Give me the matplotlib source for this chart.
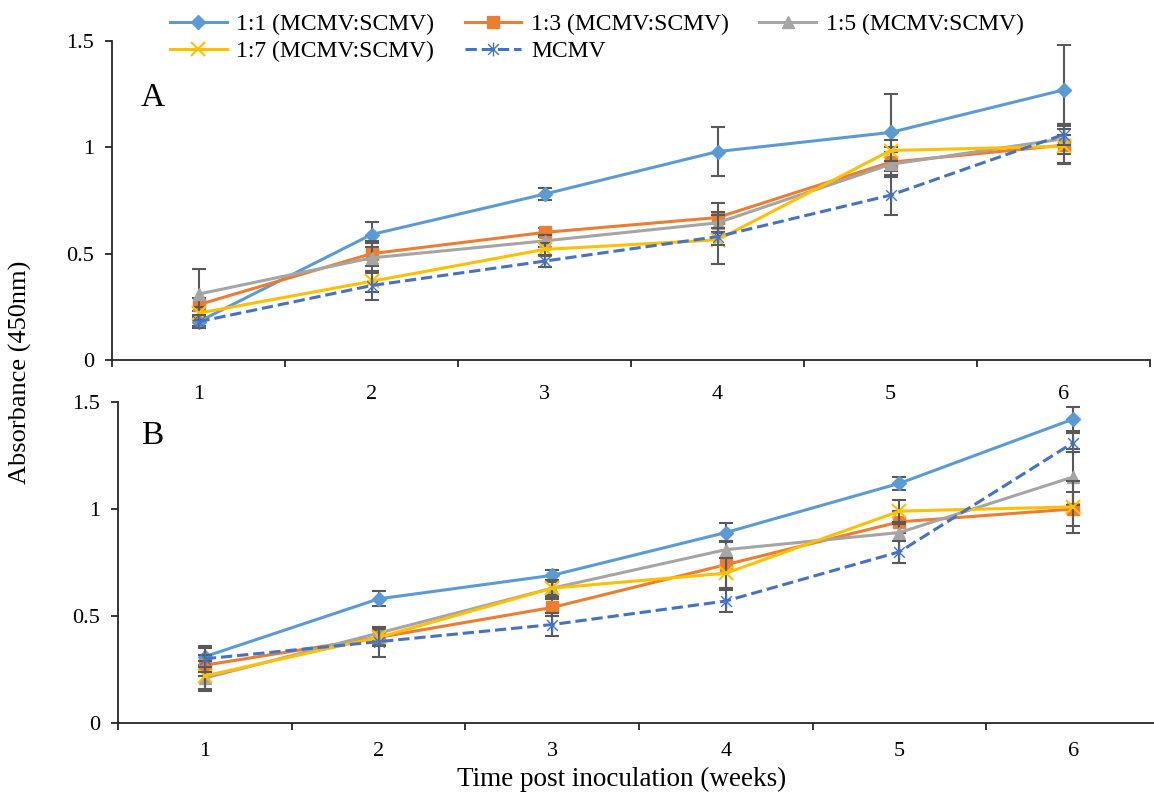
import matplotlib
matplotlib.use("Agg")
import matplotlib.pyplot as plt
import numpy as np
from matplotlib.path import Path

plt.rcParams['font.family'] = ['Liberation Serif', 'DejaVu Serif']

# weeks after inoculation
weeks = [1, 2, 3, 4, 5, 6]
labels = ["1:1 (MCMV:SCMV)", "1:3 (MCMV:SCMV)", "1:5 (MCMV:SCMV)", "1:7 (MCMV:SCMV)", "MCMV"]

# panel A, absorbance and error
a_11 = [0.18, 0.59, 0.78, 0.98, 1.07, 1.27]
a_13 = [0.26, 0.50, 0.60, 0.67, 0.93, 1.01]
a_15 = [0.31, 0.48, 0.56, 0.645, 0.92, 1.04]
a_17 = [0.22, 0.37, 0.52, 0.565, 0.985, 1.005]
a_mc = [0.18, 0.35, 0.465, 0.58, 0.775, 1.06]
a_11_err = [0.02, 0.06, 0.03, 0.115, 0.18, 0.21]
a_13_err = [0.03, 0.06, 0.02, 0.07, 0.07, 0.09]
a_15_err = [0.12, 0.07, 0.03, 0.05, 0.06, 0.07]
a_17_err = [0.03, 0.05, 0.03, 0.115, 0.05, 0.08]
a_mc_err = [0.03, 0.07, 0.03, 0.04, 0.095, 0.05]

# panel B
b_11 = [0.31, 0.58, 0.69, 0.89, 1.12, 1.42]
b_13 = [0.27, 0.40, 0.54, 0.74, 0.94, 1.00]
b_15 = [0.21, 0.42, 0.63, 0.81, 0.89, 1.15]
b_17 = [0.22, 0.40, 0.63, 0.70, 0.99, 1.01]
b_mc = [0.30, 0.38, 0.46, 0.57, 0.80, 1.31]
b_11_err = [0.04, 0.035, 0.025, 0.045, 0.03, 0.055]
b_13_err = [0.05, 0.03, 0.04, 0.11, 0.05, 0.08]
b_15_err = [0.05, 0.03, 0.04, 0.04, 0.04, 0.13]
b_17_err = [0.07, 0.04, 0.03, 0.07, 0.05, 0.12]
b_mc_err = [0.06, 0.07, 0.055, 0.05, 0.05, 0.045]

yticks = [0, 0.5, 1, 1.5]
ytick_labels = ["0", "0.5", "1", "1.5"]

# excel-like "star" marker (x with a vertical bar)
star = Path([(-1, -1), (1, 1), (-1, 1), (1, -1), (0, -1.3), (0, 1.3)],
            [Path.MOVETO, Path.LINETO, Path.MOVETO, Path.LINETO, Path.MOVETO, Path.LINETO])

styles = [
    dict(color='#5B9BD5', marker='D', ms=7.5, ls='-'),
    dict(color='#ED7D31', marker='s', ms=8, ls='-'),
    dict(color='#A5A5A5', marker='^', ms=9, ls='-'),
    dict(color='#FFC000', marker='x', ms=10, ls='-', mew=1.5),
    dict(color='#4472C4', marker=star, ms=10, ls='--', mew=1.0, mfc='none'),
]

W, H = 1154, 793
fig = plt.figure(figsize=(W / 100, H / 100), dpi=100)
ax1 = fig.add_axes([112 / W, 1 - 360 / H, (1150 - 112) / W, 319 / H])
ax2 = fig.add_axes([118 / W, 1 - 723 / H, (1160 - 118) / W, 321 / H])

panels = [
    (ax1, [a_11, a_13, a_15, a_17, a_mc], [a_11_err, a_13_err, a_15_err, a_17_err, a_mc_err], 18),
    (ax2, [b_11, b_13, b_15, b_17, b_mc], [b_11_err, b_13_err, b_15_err, b_17_err, b_mc_err], 14),
]

handles = []
for ax, series, errs, xpad in panels:
    handles = []
    for vals, err, lab, st in zip(series, errs, labels, styles):
        st = dict(st)
        c = st.pop('color')
        ax.errorbar(weeks, vals, yerr=err, fmt='none', ecolor='#595959',
                    elinewidth=1.5, capsize=5, capthick=1.5)
        ln, = ax.plot(weeks, vals, color=c, lw=2.2, mec=c,
                      mfc=st.pop('mfc', c), label=lab, **st)
        handles.append(ln)

    ax.set_xlim(0.5, 6.5)
    ax.set_ylim(0, 1.5)
    ax.set_xticks(weeks)
    ax.set_xticks(np.arange(0.5, 7, 1), minor=True)
    ax.set_yticks(yticks)
    ax.set_yticklabels(ytick_labels)
    ax.tick_params(axis='x', which='major', length=0, pad=xpad, labelsize=16)
    ax.tick_params(axis='x', which='minor', length=5, width=1.3, direction='out', color='#262626')
    ax.tick_params(axis='y', length=5, width=1.3, pad=8, labelsize=16, color='#262626')
    for s in ['top', 'right']:
        ax.spines[s].set_visible(False)
    for s in ['left', 'bottom']:
        ax.spines[s].set_linewidth(1.3)
        ax.spines[s].set_color('#262626')
    ax.patch.set_alpha(0)

fig.text(153 / W, 1 - 98 / H, "A", fontsize=24, ha='center', va='center')
fig.text(152 / W, 1 - 436 / H, "B", fontsize=24, ha='center', va='center')

fig.text(20 / W, 1 - 372 / H, "Absorbance (450nm)", rotation=90, fontsize=19,
         ha='center', va='center')
fig.text(622 / W, 1 - 779 / H, "Time post inoculation (weeks)", fontsize=19.5,
         ha='center', va='center')

# column-major order so rows read 1:1, 1:3, 1:5 / 1:7, MCMV
order = [0, 3, 1, 4, 2]
fig.legend([handles[i] for i in order], [labels[i] for i in order], ncol=3,
           loc='upper left', bbox_to_anchor=(170 / W, 1 - 14 / H), frameon=False,
           fontsize=17, handlelength=2.4, handletextpad=0.4, columnspacing=1.3,
           labelspacing=0.2, borderpad=0, borderaxespad=0)

fig.savefig("out.png", dpi=100)
